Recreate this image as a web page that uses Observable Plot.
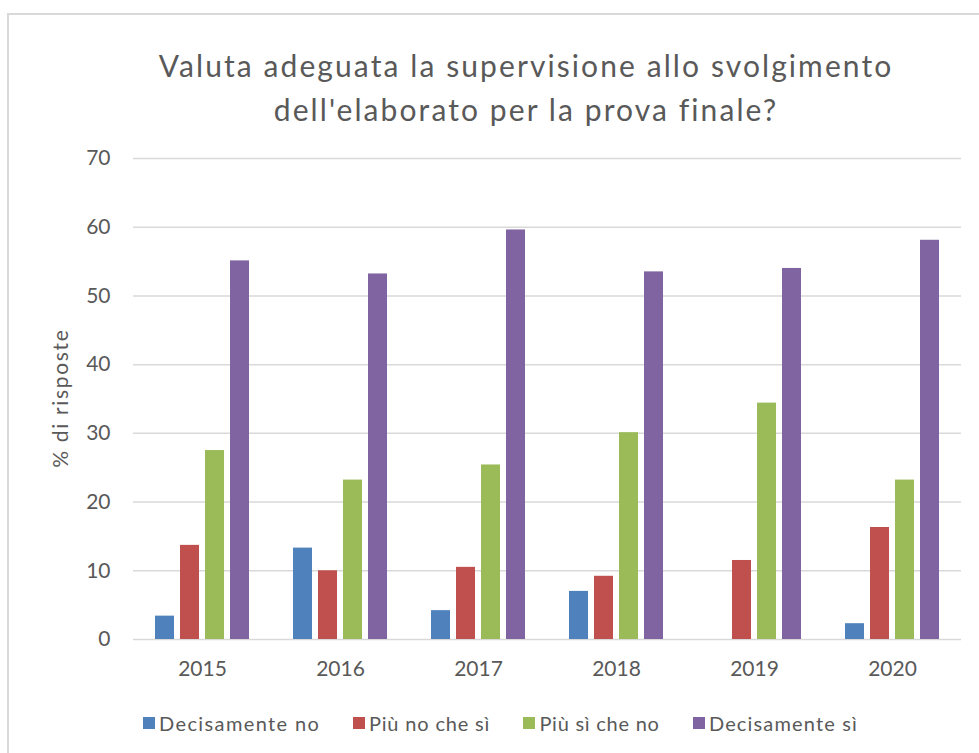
<!DOCTYPE html>
<html><head><meta charset="utf-8">
<script src="https://cdn.jsdelivr.net/npm/d3@7"></script>
<script src="https://cdn.jsdelivr.net/npm/@observablehq/plot@0.6"></script>
<style>
html,body{margin:0;padding:0;background:#fff;overflow:hidden;width:979px;height:753px;}
body{position:relative;font-family:Lato,"Open Sans",sans-serif;color:#595959;}
#frame{position:absolute;left:7px;top:13px;width:1000px;height:800px;border:2px solid #d9d9d9;box-sizing:border-box;}
#chart{position:absolute;left:0;top:0;}
#chart svg{background:transparent;}
.tline{position:absolute;left:25px;width:1000px;text-align:center;font-size:30px;line-height:36px;height:36px;white-space:nowrap;}
.tline span{display:inline-block;}
#t1{top:47px;}
#t2{top:91px;}
#ylabel{position:absolute;left:-40px;top:387px;width:200px;height:24px;line-height:24px;font-size:21px;text-align:center;transform:rotate(-90deg);white-space:nowrap;}
#ylabel span{display:inline-block;}
#legend{position:absolute;left:143px;top:713px;height:20px;display:flex;align-items:center;font-size:20px;line-height:20px;white-space:nowrap;}
#legend .item{display:flex;align-items:center;margin-right:34px;}
#legend .sw{width:12px;height:12px;margin-right:4px;}
#legend span{display:inline-block;}
</style>
</head><body>
<div id="frame"></div>
<div id="chart"></div>
<div class="tline" id="t1"><span>Valuta adeguata la supervisione allo svolgimento</span></div>
<div class="tline" id="t2"><span>dell'elaborato per la prova finale?</span></div>
<div id="ylabel"><span>% di risposte</span></div>
<div id="legend"></div>
<script>
const years = ["2015", "2016", "2017", "2018", "2019", "2020"];
const seriesNames = ["Decisamente no", "Più no che sì", "Più sì che no", "Decisamente sì"];
const decisamenteNo = [3.4, 13.3, 4.2, 7.0, 0, 2.3];
const piuNoCheSi = [13.7, 10.0, 10.5, 9.2, 11.5, 16.3];
const piuSiCheNo = [27.5, 23.2, 25.4, 30.1, 34.4, 23.2];
const decisamenteSi = [55.1, 53.2, 59.6, 53.5, 54.0, 58.1];
const colors = ["#4f81bd", "#c0504d", "#9bbb59", "#8064a2"];
const yTicks = [0, 10, 20, 30, 40, 50, 60, 70];

const seriesValues = [decisamenteNo, piuNoCheSi, piuSiCheNo, decisamenteSi];
const data = [];
years.forEach((yr, i) => {
  seriesNames.forEach((s, j) => data.push({year: yr, series: s, value: seriesValues[j][i]}));
});

const chart = Plot.plot({
  width: 979,
  height: 753,
  marginTop: 158,
  marginBottom: 114,
  marginLeft: 130,
  marginRight: 16,
  style: {fontFamily: "Lato, 'Open Sans', sans-serif", fontSize: "21px", color: "#595959", background: "transparent"},
  fx: {domain: years, padding: 0, axis: "bottom", label: null, tickSize: 0, tickPadding: 22},
  x: {domain: seriesNames, paddingInner: 0.237, paddingOuter: 0.86, axis: null},
  y: {domain: [0, 70], ticks: yTicks, label: null, tickSize: 0, tickPadding: 23},
  color: {domain: seriesNames, range: colors},
  marks: [
    Plot.gridY(yTicks, {stroke: "#d9d9d9", strokeOpacity: 1, strokeWidth: 1.5}),
    Plot.barY(data, {fx: "year", x: "series", y: "value", fill: "series"})
  ]
});
document.getElementById("chart").appendChild(chart);

const legend = document.getElementById("legend");
const legendWidths = [160, 121, 120, 148];
seriesNames.forEach((s, j) => {
  const it = document.createElement("div");
  it.className = "item";
  const sw = document.createElement("div");
  sw.className = "sw";
  sw.style.background = colors[j];
  const tx = document.createElement("span");
  tx.textContent = s;
  tx.dataset.target = legendWidths[j];
  it.appendChild(sw); it.appendChild(tx);
  legend.appendChild(it);
});
document.querySelector("#t1 span").dataset.target = 732;
document.querySelector("#t2 span").dataset.target = 502;
document.querySelector("#ylabel span").dataset.target = 138;

function fitAll() {
  document.querySelectorAll("span[data-target]").forEach(el => {
    el.style.letterSpacing = "0px";
    el.style.marginRight = "0px";
    const w = el.offsetWidth;
    const n = el.textContent.length;
    const ls = (+el.dataset.target - w) / (n - 1);
    el.style.letterSpacing = ls + "px";
    el.style.marginRight = (-ls) + "px";
  });
}
fitAll();
if (document.fonts && document.fonts.ready) document.fonts.ready.then(fitAll);
</script>
</body></html>
